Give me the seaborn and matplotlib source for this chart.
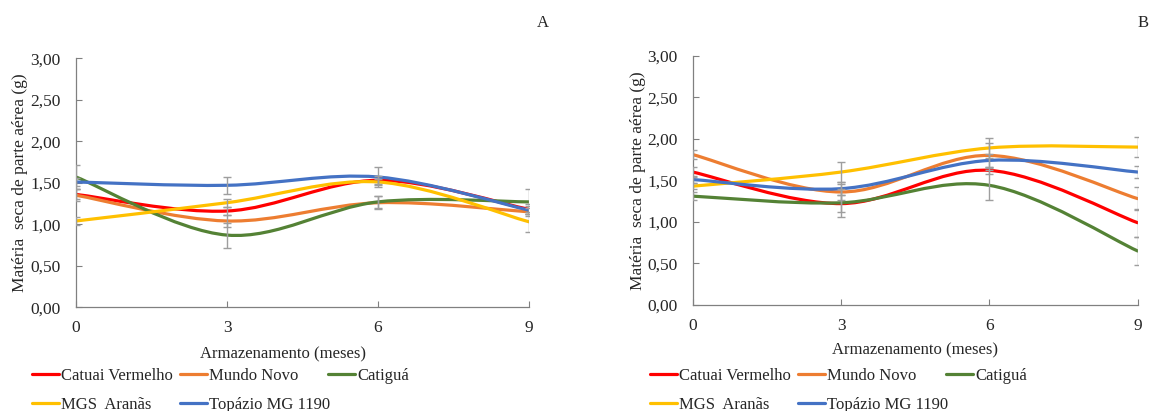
import numpy as np
import matplotlib
matplotlib.use("Agg")
import matplotlib.pyplot as plt
import seaborn as sns
from matplotlib.path import Path
from matplotlib.patches import PathPatch
from matplotlib.lines import Line2D

# ---------------- data ----------------
months = [0, 3, 6, 9]
cultivars = ["Catuai Vermelho", "Mundo Novo", "Catiguá", "MGS  Aranãs", "Topázio MG 1190"]
colors = ["#FF0000", "#ED7D31", "#548235", "#FFC000", "#4472C4"]

# Panel A
a_catuai = [1.36, 1.16, 1.53, 1.18]
a_mundo = [1.35, 1.04, 1.26, 1.15]
a_catigua = [1.57, 0.87, 1.27, 1.27]
a_mgs = [1.04, 1.26, 1.51, 1.03]
a_topazio = [1.51, 1.47, 1.57, 1.17]
a_err_catuai = [0.06, 0.05, 0.05, 0.06]
a_err_mundo = [0.07, 0.07, 0.08, 0.05]
a_err_catigua = [0.14, 0.15, 0.07, 0.15]
a_err_mgs = [0.05, 0.05, 0.04, 0.12]
a_err_topazio = [0.05, 0.10, 0.12, 0.05]

# Panel B
b_catuai = [1.60, 1.22, 1.62, 0.99]
b_mundo = [1.81, 1.36, 1.80, 1.28]
b_catigua = [1.31, 1.23, 1.44, 0.65]
b_mgs = [1.43, 1.60, 1.89, 1.90]
b_topazio = [1.51, 1.40, 1.74, 1.60]
b_err_catuai = [0.06, 0.10, 0.04, 0.17]
b_err_mundo = [0.05, 0.10, 0.15, 0.14]
b_err_catigua = [0.05, 0.17, 0.18, 0.17]
b_err_mgs = [0.04, 0.12, 0.12, 0.12]
b_err_topazio = [0.04, 0.08, 0.08, 0.07]

yticks = [0.0, 0.5, 1.0, 1.5, 2.0, 2.5, 3.0]
ytick_labels = ["0,00", "0,50", "1,00", "1,50", "2,00", "2,50", "3,00"]
xlabel = "Armazenamento (meses)"
ylabel = "Matéria  seca de parte aérea (g)"

panels = [
    ("A", [a_catuai, a_mundo, a_catigua, a_mgs, a_topazio],
     [a_err_catuai, a_err_mundo, a_err_catigua, a_err_mgs, a_err_topazio]),
    ("B", [b_catuai, b_mundo, b_catigua, b_mgs, b_topazio],
     [b_err_catuai, b_err_mundo, b_err_catigua, b_err_mgs, b_err_topazio]),
]

# ---------------- style ----------------
sns.set_style("ticks")
plt.rcParams["font.family"] = ["Liberation Serif", "DejaVu Serif"]
plt.rcParams["font.size"] = 12
TXT = "#262626"


def smooth_path(xs, ys):
    """Excel-like smoothed line expressed as cubic Bezier segments."""
    pts = np.column_stack([xs, ys]).astype(float)
    n = len(pts)
    verts = [pts[0]]
    codes = [Path.MOVETO]
    for i in range(n - 1):
        p_prev = pts[i - 1] if i > 0 else pts[i]
        p_next2 = pts[i + 2] if i + 2 < n else pts[i + 1]
        c1 = pts[i] + (pts[i + 1] - p_prev) / 6.0
        c2 = pts[i + 1] - (p_next2 - pts[i]) / 6.0
        verts += [c1, c2, pts[i + 1]]
        codes += [Path.CURVE4] * 3
    return Path(verts, codes)


W, H = 1151, 411
fig = plt.figure(figsize=(W / 100, H / 100), dpi=100)

axes_px = [(76, 58.3, 529, 307.3), (692.7, 55.7, 1137.7, 305.0)]
xlabel_cx = [283, 915]
xlabel_top = [346, 342]
ylabel_right = [28, 646]
label_px = [(543, 23), (1143, 23)]
legend_x0 = [32, 650]

for (name, series, errs), (l, t, r, b), xc, xt, yr, (lx, ly), lg0 in zip(
        panels, axes_px, xlabel_cx, xlabel_top, ylabel_right, label_px, legend_x0):
    ax = fig.add_axes([l / W, 1 - b / H, (r - l) / W, (b - t) / H])
    sns.despine(ax=ax)
    ax.set_xlim(0, 9)
    ax.set_ylim(0, 3)
    for vals, col in zip(series, colors):
        ax.add_patch(PathPatch(smooth_path(months, vals), facecolor="none",
                               edgecolor=col, lw=2.3, capstyle="round", zorder=3))
    for vals, err in zip(series, errs):
        ax.errorbar(months, vals, yerr=err, fmt="none", ecolor="#9E9E9E",
                    elinewidth=1.0, capsize=3, capthick=1.0, zorder=4)
    ax.set_xticks(months)
    ax.set_xticklabels([str(m) for m in months])
    ax.set_yticks(yticks)
    ax.set_yticklabels(ytick_labels)
    ax.tick_params(direction="in", length=4, width=0.8, color="#808080",
                   labelsize=12.5, labelcolor=TXT)
    ax.tick_params(axis="y", pad=11)
    ax.tick_params(axis="x", pad=9)
    for s in ["left", "bottom"]:
        ax.spines[s].set_color("#808080")
        ax.spines[s].set_linewidth(0.9)
    ax.set_xlabel(xlabel, fontsize=12, color=TXT)
    ax.xaxis.set_label_coords((xc - l) / (r - l), (b - xt) / (b - t))
    ax.set_ylabel(ylabel, fontsize=12.5, color=TXT)
    ax.yaxis.set_label_coords((yr - l) / (r - l), 0.5)
    fig.text(lx / W, 1 - ly / H, name, ha="center", va="center",
             fontsize=12, color=TXT)

    # legend laid out in three columns (row-major order as in reference)
    cols = [[0, 3], [1, 4], [2]]
    for ci, idxs in enumerate(cols):
        handles = [Line2D([], [], color=colors[i], lw=2.3) for i in idxs]
        labels = [cultivars[i] for i in idxs]
        fig.legend(handles, labels, loc="upper left",
                   bbox_to_anchor=((lg0 + 148 * ci) / W, 1 - 368 / H),
                   frameon=False, fontsize=12, handlelength=1.6,
                   handletextpad=0.15, borderpad=0, borderaxespad=0,
                   labelspacing=0.78, labelcolor=TXT)

fig.savefig("out.png", dpi=100)
